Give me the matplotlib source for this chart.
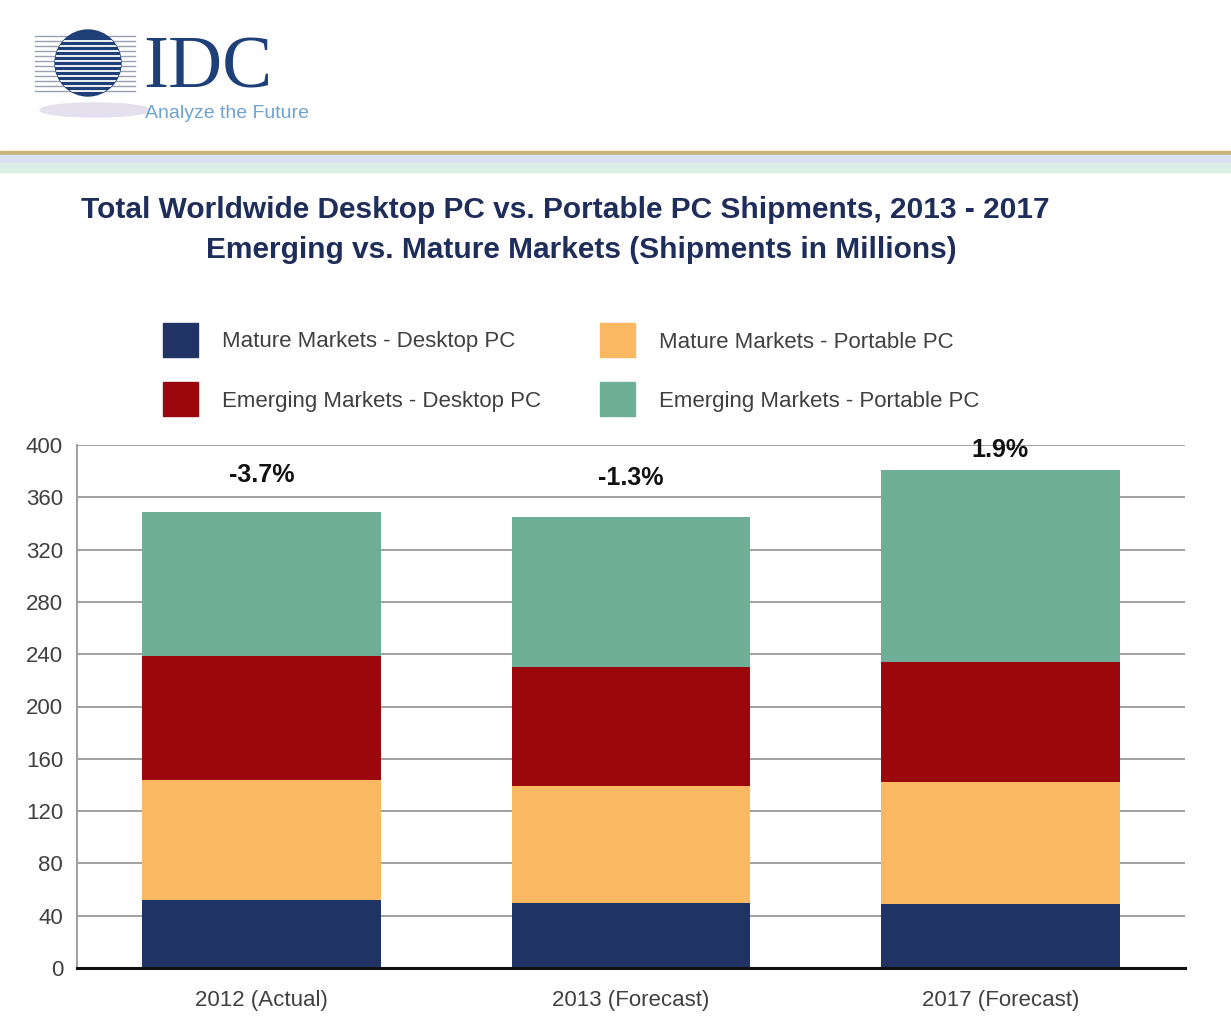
import matplotlib.pyplot as plt
import matplotlib.patches as mpatches
from matplotlib.lines import Line2D

# data (millions of units)
categories = ["2012 (Actual)", "2013 (Forecast)", "2017 (Forecast)"]
mature_desktop = [52, 50, 49]
mature_portable = [92, 89, 93]
emerging_desktop = [95, 91, 92]
emerging_portable = [110, 115, 147]
growth = ["-3.7%", "-1.3%", "1.9%"]
growth_y = [377, 375, 396]  # where the labels sit on the axis

series = [
    ("Mature Markets - Desktop PC", mature_desktop, "#1f3464"),
    ("Mature Markets - Portable PC", mature_portable, "#fbb862"),
    ("Emerging Markets - Desktop PC", emerging_desktop, "#9b070d"),
    ("Emerging Markets - Portable PC", emerging_portable, "#6faf97"),
]

plt.rcParams['font.family'] = ['Liberation Sans', 'DejaVu Sans']

fig = plt.figure(figsize=(12.31, 10.24), dpi=100)
W, H = 1231, 1024

def fx(px):
    return px / W

def fy(py):
    return 1 - py / H

# --- IDC logo ---
lax = fig.add_axes([0, fy(130), fx(330), 130 / H])
lax.set_xlim(0, 330)
lax.set_ylim(130, 0)
lax.axis("off")
lax.add_patch(mpatches.Ellipse((95, 110), 110, 14, color="#e4e0ee", zorder=1))
for yy in range(36, 92, 5):
    lax.plot([35, 135], [yy, yy], color="#9aa0b0", lw=1.0, zorder=1)
globe = mpatches.Circle((88, 63), 33, color="#1e3f78", zorder=2)
lax.add_patch(globe)
for yy in range(38, 90, 5):
    ln = Line2D([50, 126], [yy + 2.5, yy + 2.5], color="white", lw=1.3, zorder=3)
    ln.set_clip_path(globe)
    lax.add_line(ln)
lax.text(143, 87, "IDC", family="Liberation Serif", fontsize=54, color="#1e3f78",
         va="baseline", ha="left")
lax.text(145, 114, "Analyze the Future", fontsize=14, color="#6fa3d0",
         va="center", ha="left")

# header bands
fig.patches.append(mpatches.Rectangle((0, fy(155)), 1, 4 / H, transform=fig.transFigure,
                                      color="#c9b57a"))
fig.patches.append(mpatches.Rectangle((0, fy(163)), 1, 8 / H, transform=fig.transFigure,
                                      color="#dbe2f2"))
fig.patches.append(mpatches.Rectangle((0, fy(172)), 1, 9 / H, transform=fig.transFigure,
                                      color="#dcefe6"))

# titles
fig.text(fx(565), fy(210), "Total Worldwide Desktop PC vs. Portable PC Shipments, 2013 - 2017",
         ha="center", va="center", fontsize=21.5, fontweight="bold", color="#1f2d5a")
fig.text(fx(581), fy(250), "Emerging vs. Mature Markets (Shipments in Millions)",
         ha="center", va="center", fontsize=21.5, fontweight="bold", color="#1f2d5a")

# legend
leg_pos = [(163, 323), (600, 323), (163, 382), (600, 382)]
for (label, vals, col), (lx, ly) in zip(series, leg_pos):
    fig.patches.append(mpatches.Rectangle((fx(lx), fy(ly + 34)), 35 / W, 34 / H,
                                          transform=fig.transFigure, color=col))
    fig.text(fx(lx + 59), fy(ly + 19), label, ha="left", va="center",
             fontsize=16, color="#404040")

# chart
ax = fig.add_axes([fx(77), fy(968), fx(1185) - fx(77), 523 / H])
x = range(len(categories))
bottom = [0] * len(categories)
for label, vals, col in series:
    ax.bar(x, vals, 0.647, bottom=bottom, color=col, zorder=3)
    bottom = [b + v for b, v in zip(bottom, vals)]

for i, t in enumerate(growth):
    ax.text(i, growth_y[i], t, ha="center", va="center", fontsize=18,
            fontweight="bold", color="#111111", zorder=4)

ax.set_xlim(-0.5, 2.5)
ax.set_ylim(0, 400)
ax.set_yticks(range(0, 401, 40))
ax.set_xticks(list(x))
ax.set_xticklabels(categories)
ax.yaxis.grid(True, color="#a0a0a0", lw=1.4, zorder=0)
ax.set_axisbelow(True)
ax.tick_params(length=0, labelsize=16, colors="#404040")
ax.tick_params(axis="x", pad=16)
ax.tick_params(axis="y", pad=10)
for s in ["top", "right"]:
    ax.spines[s].set_visible(False)
ax.spines["left"].set_color("#a0a0a0")
ax.spines["left"].set_linewidth(1.4)
ax.spines["bottom"].set_color("#111111")
ax.spines["bottom"].set_linewidth(2.2)
ax.spines["bottom"].set_zorder(5)

fig.savefig("out.png", dpi=100)
